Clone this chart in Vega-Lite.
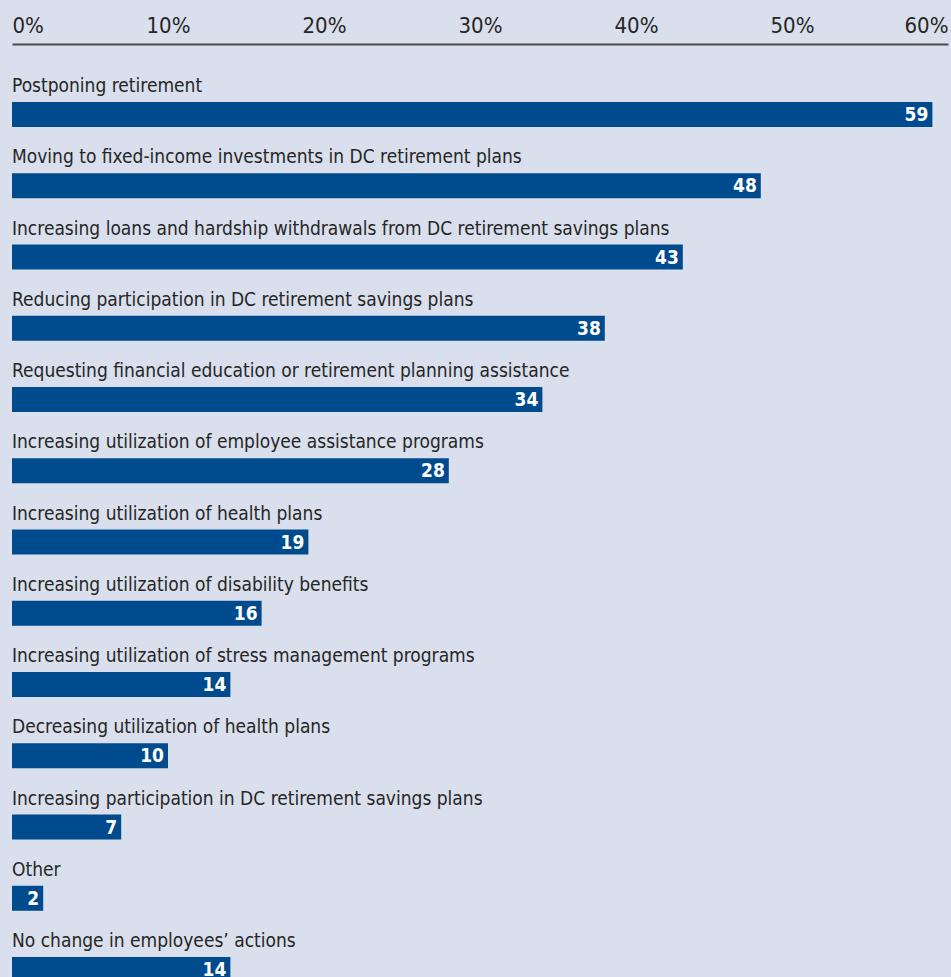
{
  "$schema": "https://vega.github.io/schema/vega-lite/v6.json",
  "autosize": "none",
  "padding": {"left": 12, "top": 44, "right": 3, "bottom": 7},
  "background": "#d9dfec",
  "width": 936,
  "height": {"step": 71.25},
  "config": {
    "view": {"stroke": null},
    "font": "'DejaVu Sans Condensed', 'Liberation Sans Narrow', 'Roboto Condensed', Roboto, sans-serif"
  },
  "data": {
    "values": [
      {"action": "Postponing retirement", "pct": 59},
      {"action": "Moving to fixed-income investments in DC retirement plans", "pct": 48},
      {"action": "Increasing loans and hardship withdrawals from DC retirement savings plans", "pct": 43},
      {"action": "Reducing participation in DC retirement savings plans", "pct": 38},
      {"action": "Requesting financial education or retirement planning assistance", "pct": 34},
      {"action": "Increasing utilization of employee assistance programs", "pct": 28},
      {"action": "Increasing utilization of health plans", "pct": 19},
      {"action": "Increasing utilization of disability benefits", "pct": 16},
      {"action": "Increasing utilization of stress management programs", "pct": 14},
      {"action": "Decreasing utilization of health plans", "pct": 10},
      {"action": "Increasing participation in DC retirement savings plans", "pct": 7},
      {"action": "Other", "pct": 2},
      {"action": "No change in employees’ actions", "pct": 14}
    ]
  },
  "encoding": {
    "y": {
      "field": "action",
      "type": "nominal",
      "sort": null,
      "scale": {"paddingInner": 0, "paddingOuter": 0},
      "axis": null
    }
  },
  "layer": [
    {
      "mark": {"type": "bar", "color": "#004b8d", "height": 25, "yOffset": 34.9},
      "encoding": {
        "x": {
          "field": "pct",
          "type": "quantitative",
          "scale": {"domain": [0, 60], "nice": false},
          "axis": {
            "orient": "top",
            "values": [0, 10, 20, 30, 40, 50, 60],
            "labelExpr": "datum.value + '%'",
            "labelFlush": true,
            "labelFontSize": 22,
            "labelColor": "#262626",
            "labelPadding": 7,
            "ticks": false,
            "grid": false,
            "domainColor": "#4a4a4a",
            "domainWidth": 2,
            "title": null
          }
        }
      }
    },
    {
      "mark": {"type": "text", "align": "right", "baseline": "middle", "dx": -4, "yOffset": 35.5, "color": "white", "fontWeight": "bold", "fontSize": 19},
      "encoding": {
        "x": {"field": "pct", "type": "quantitative"},
        "text": {"field": "pct", "type": "quantitative"}
      }
    },
    {
      "mark": {"type": "text", "align": "left", "baseline": "middle", "yOffset": 6.4, "color": "#262626", "fontSize": 19},
      "encoding": {
        "x": {"datum": 0},
        "text": {"field": "action", "type": "nominal"}
      }
    }
  ]
}
